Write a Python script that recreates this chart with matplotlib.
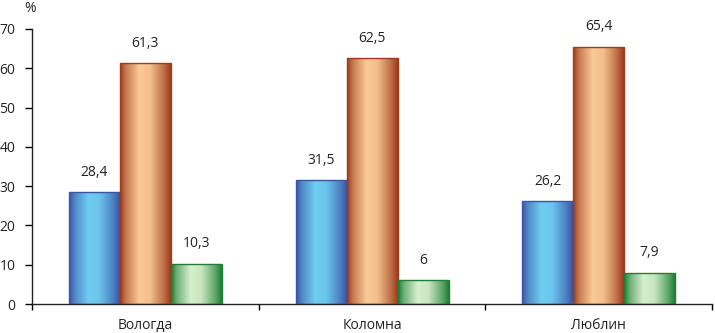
import numpy as np
import matplotlib.pyplot as plt
from matplotlib.colors import LinearSegmentedColormap
from matplotlib.patches import Rectangle

# data
cities = ['Вологда', 'Коломна', 'Люблин']
blue_vals = [28.4, 31.5, 26.2]
orange_vals = [61.3, 62.5, 65.4]
green_vals = [10.3, 6, 7.9]

# (dark edge colour, light centre colour)
series = [
    (blue_vals, '#3a55a6', '#6fcdf2'),
    (orange_vals, '#9e3b1c', '#fac995'),
    (green_vals, '#1f7f36', '#d6eecc'),
]

plt.rcParams['font.family'] = ['Open Sans', 'DejaVu Sans']
FS = 10

fig = plt.figure(figsize=(7.15, 3.33), dpi=100)
ax = fig.add_axes([32 / 715, 29 / 333, (712 - 32) / 715, (304 - 29) / 333])

width = 0.225
x = np.arange(len(cities))

# horizontal gradient profile across one bar: dark - light - dark
prof_x = np.linspace(0, 1, 200)
prof = np.interp(prof_x, [0, 0.12, 0.38, 0.6, 0.85, 1], [0, 0.45, 1, 0.92, 0.4, 0])
grad = prof[np.newaxis, :]

for i, (vals, dark, light) in enumerate(series):
    cmap = LinearSegmentedColormap.from_list('g%d' % i, [dark, light])
    for j, v in enumerate(vals):
        left = x[j] + (i - 1) * width - width / 2
        rect = Rectangle((left, 0), width, v, facecolor='none', edgecolor=dark,
                         linewidth=1.0, zorder=3)
        ax.add_patch(rect)
        im = ax.imshow(grad, cmap=cmap, aspect='auto', vmin=0, vmax=1,
                       extent=(left, left + width, 0, v), zorder=2,
                       interpolation='bilinear')
        im.set_clip_path(rect)
        lab = ('%g' % v).replace('.', ',')
        ax.text(left + width / 2, v + 3.2, lab, ha='center', va='bottom',
                fontsize=FS, color='#222222')

ax.set_xlim(-0.5, 2.5)
ax.set_ylim(0, 70)
ax.set_yticks(range(0, 71, 10))
ax.set_xticks(x)
ax.set_xticklabels(cities)
ax.set_xticks([-0.5, 0.5, 1.5, 2.5], minor=True)
ax.tick_params(axis='x', which='major', length=0, pad=10, labelsize=FS, labelcolor='#222222')
ax.tick_params(axis='x', which='minor', length=4, width=1, direction='out')
ax.tick_params(axis='y', length=5, width=1, direction='out', pad=7, labelsize=FS, labelcolor='#222222')

for s in ['top', 'right']:
    ax.spines[s].set_visible(False)
for s in ['left', 'bottom']:
    ax.spines[s].set_linewidth(1)
    ax.spines[s].set_color('#222222')

fig.text(30 / 715, 1 - 9 / 333, '%', ha='center', va='center', fontsize=FS, color='#222222')

fig.savefig('out.png', dpi=100)
